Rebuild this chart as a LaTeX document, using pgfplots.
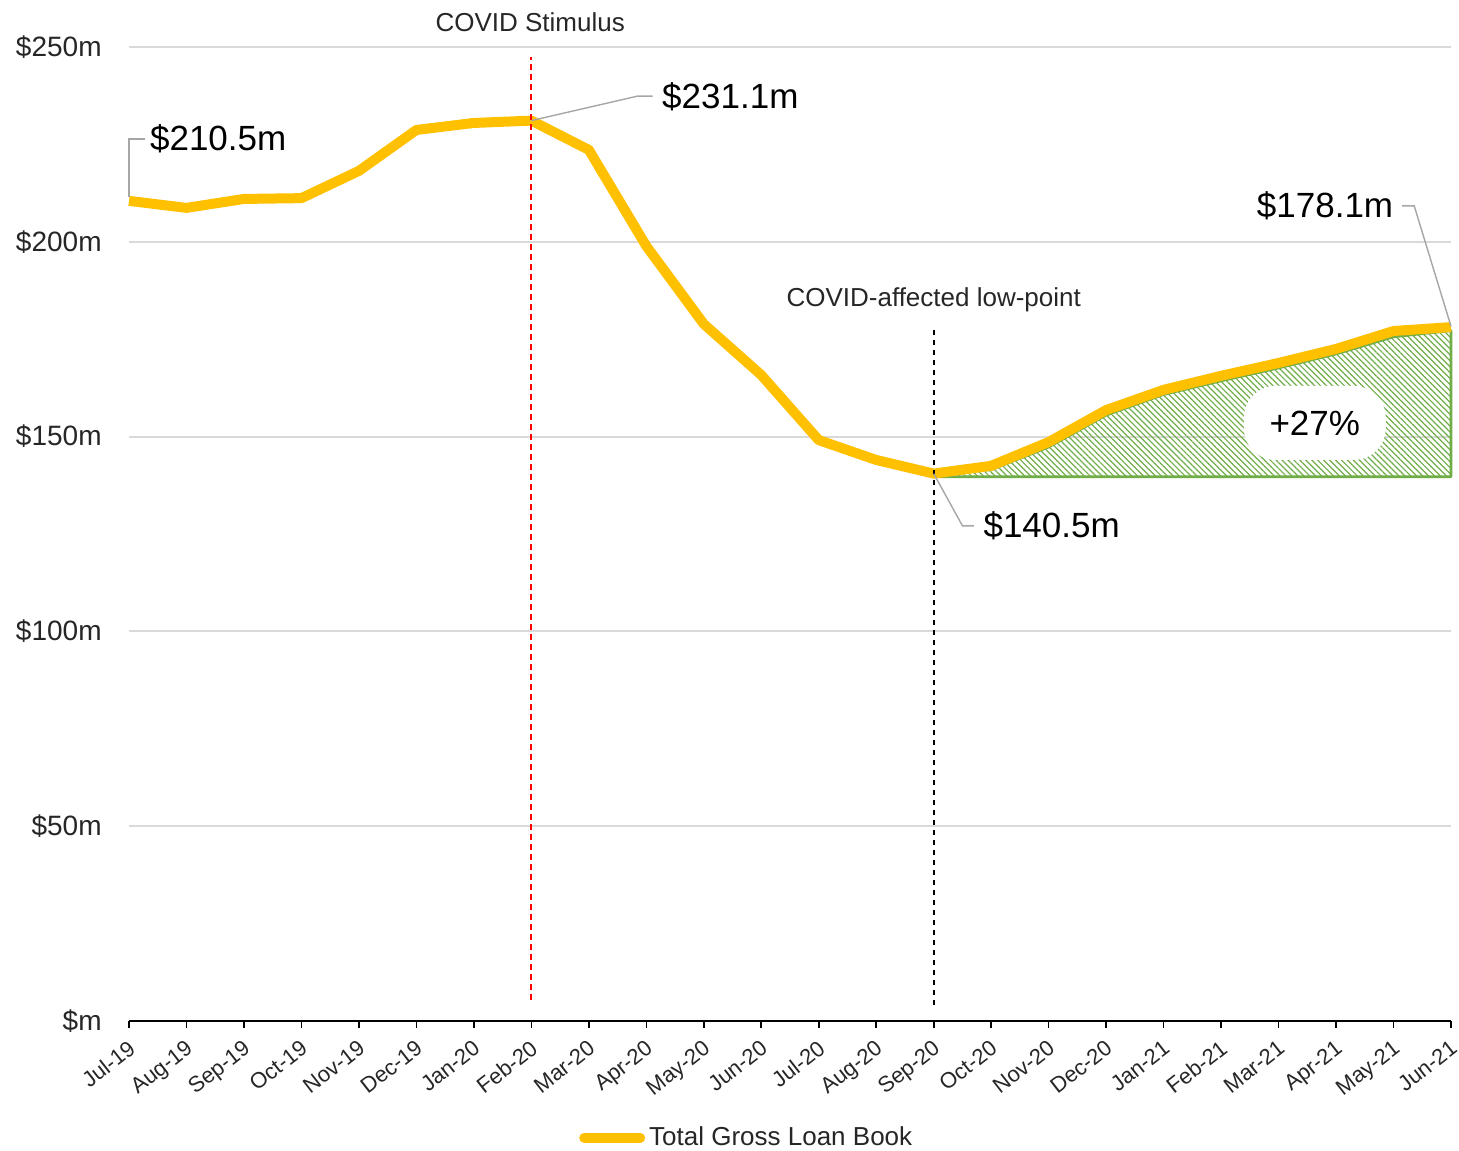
\documentclass[border=0pt]{standalone}
\usepackage{fontspec}
\setmainfont{Liberation Sans}
\usepackage{pgfplots}
\pgfplotsset{compat=1.18}
\usetikzlibrary{patterns.meta}
\definecolor{gold}{HTML}{FFC000}
\definecolor{grn}{HTML}{70AD47}
\definecolor{gridc}{HTML}{D9D9D9}
\definecolor{lead}{HTML}{A6A6A6}
\definecolor{txt}{HTML}{262626}
\begin{document}
\begin{tikzpicture}
\useasboundingbox (-64.5pt,-64.5pt) rectangle (665pt,510.5pt);
\begin{axis}[name=ax, at={(0pt,0pt)}, anchor=south west, scale only axis, width=661pt, height=487pt,
  xmin=0, xmax=23, ymin=0, ymax=250, clip=false,
  axis x line*=bottom, axis y line*=left,
  y axis line style={draw=none},
  x axis line style={black, line width=1pt},
  xtick={0,...,23},
  xticklabels={Jul-19,Aug-19,Sep-19,Oct-19,Nov-19,Dec-19,Jan-20,Feb-20,Mar-20,Apr-20,May-20,Jun-20,Jul-20,Aug-20,Sep-20,Oct-20,Nov-20,Dec-20,Jan-21,Feb-21,Mar-21,Apr-21,May-21,Jun-21},
  x tick label style={rotate=38, anchor=north east, font=\fontsize{11}{13}\selectfont, text=txt, inner sep=1pt, xshift=-3pt, yshift=-2.5pt},
  xtick style={black, line width=0.8pt},
  tick align=outside, major tick length=3.5pt,
  ytick={0,50,100,150,200,250},
  yticklabels={\$m,\$50m,\$100m,\$150m,\$200m,\$250m},
  ytick style={draw=none},
  y tick label style={font=\fontsize{14}{16}\selectfont, text=txt, anchor=east, inner sep=0pt, xshift=-10pt},
  ymajorgrids, grid style={gridc, line width=1pt},
  legend style={at={(0.468,-0.12)}, anchor=center, draw=none, fill=none, font=\fontsize{13}{15}\selectfont, text=txt, inner sep=0pt},
  legend image code/.code={\draw[#1, line cap=round] (0pt,0pt) -- (28pt,0pt);},
]
\addplot[forget plot, draw=grn, line width=1.3pt, line join=round,
  pattern={Lines[angle=-45,distance=2.1pt,line width=0.6pt]}, pattern color=grn]
  coordinates {(14,140.5)(15,141.5)(16,147.3)(17,155.5)(18,160.8)(19,164.3)(20,167.6)(21,171.2)(22,175.6)(23,177.2)(23,139.7)(14,139.7)} -- cycle;
\addplot[gold, line width=5pt, line join=round] coordinates {
(0,210.5)(1,208.7)(2,211.0)(3,211.2)(4,218.2)(5,228.7)(6,230.5)(7,231.1)(8,223.6)(9,198.9)(10,178.9)(11,165.8)(12,149.1)(13,144.0)(14,140.5)(15,142.5)(16,148.6)(17,156.8)(18,162.0)(19,165.6)(20,168.9)(21,172.5)(22,177.1)(23,178.1)};
\addlegendentry{Total Gross Loan Book}
\addplot[forget plot, red, line width=1pt, dash pattern=on 3pt off 2pt] coordinates {(7,5.4)(7,247.4)};
\addplot[forget plot, black, line width=1pt, dash pattern=on 2.5pt off 2.5pt] coordinates {(14,4.1)(14,178.6)};
% leaders
\draw[lead, line width=0.7pt] (axis cs:0,211.5) -- (axis cs:0,226.4) -- (axis cs:0.28,226.4);
\draw[lead, line width=0.7pt] (axis cs:7,231.1) -- (axis cs:8.85,237.4) -- (axis cs:9.11,237.4);
\draw[lead, line width=0.7pt] (axis cs:22.15,209.2) -- (axis cs:22.36,209.2) -- (axis cs:23,178.3);
\draw[lead, line width=0.7pt] (axis cs:14,140.5) -- (axis cs:14.5,127.1) -- (axis cs:14.7,127.1);
% labels
\node[anchor=west, inner sep=0pt, font=\fontsize{17.5}{20}\selectfont] at (axis cs:0.36,226.4) {\$210.5m};
\node[anchor=west, inner sep=0pt, font=\fontsize{17.5}{20}\selectfont] at (axis cs:9.27,237.3) {\$231.1m};
\node[anchor=east, inner sep=0pt, font=\fontsize{17.5}{20}\selectfont] at (axis cs:22.0,209.2) {\$178.1m};
\node[anchor=west, inner sep=0pt, font=\fontsize{17.5}{20}\selectfont] at (axis cs:14.86,127.1) {\$140.5m};
\node[inner sep=0pt, font=\fontsize{13}{15}\selectfont, text=txt] at (axis cs:6.98,256.4) {COVID Stimulus};
\node[inner sep=0pt, font=\fontsize{13}{15}\selectfont, text=txt] at (axis cs:14,185) {COVID-affected low-point};
\node[fill=white, rounded corners=16pt, minimum width=71pt, minimum height=37pt, inner sep=0pt, font=\fontsize{17.5}{20}\selectfont] at (axis cs:20.63,153.5) {+27\%};
\end{axis}
\end{tikzpicture}
\end{document}
